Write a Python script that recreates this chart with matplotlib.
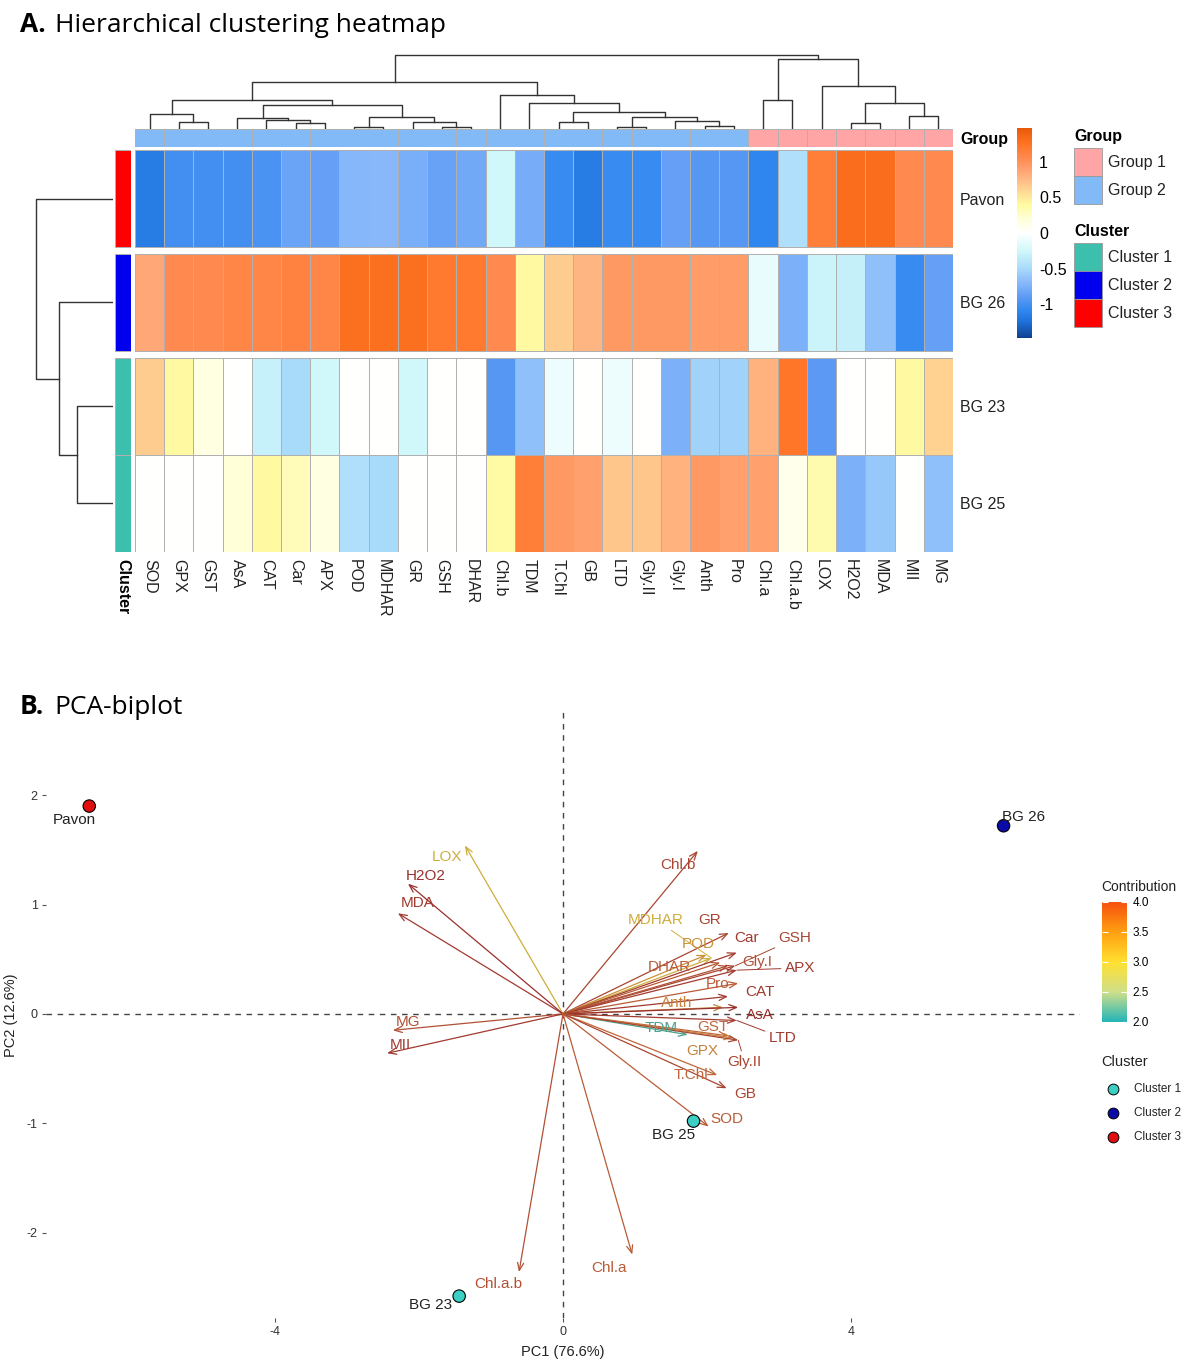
import numpy as np
import matplotlib
matplotlib.use("Agg")
import matplotlib.pyplot as plt
from matplotlib.colors import LinearSegmentedColormap, Normalize
from matplotlib.cm import ScalarMappable
from matplotlib.patches import Rectangle

plt.rcParams['font.family'] = ['Liberation Sans', 'DejaVu Sans']
plt.rcParams['axes.unicode_minus'] = False

W, H = 1201, 1364

# ---------------- heatmap data (column-scaled values) ----------------
variables = ["SOD", "GPX", "GST", "AsA", "CAT", "Car", "APX", "POD", "MDHAR", "GR",
             "GSH", "DHAR", "Chl.b", "TDM", "T.Chl", "GB", "LTD", "Gly.II", "Gly.I",
             "Anth", "Pro", "Chl.a", "Chl.a.b", "LOX", "H2O2", "MDA", "MII", "MG"]
samples = ["Pavon", "BG 26", "BG 23", "BG 25"]
z_pavon = [-1.15, -1.0, -1.0, -1.0, -0.97, -0.83, -0.85, -0.71, -0.70, -0.76, -0.84, -0.80,
           -0.25, -0.78, -1.05, -1.15, -1.05, -1.05, -0.85, -0.92, -0.92, -1.1, -0.45,
           1.15, 1.3, 1.3, 1.05, 1.05]
z_bg26 = [0.85, 1.05, 1.05, 1.08, 1.08, 1.12, 1.08, 1.28, 1.28, 1.28, 1.2, 1.2,
          1.05, 0.4, 0.65, 0.78, 0.95, 0.95, 0.95, 0.92, 0.92, -0.12, -0.75,
          -0.28, -0.32, -0.65, -1.05, -0.85]
z_bg23 = [0.65, 0.4, 0.15, 0.0, -0.3, -0.5, -0.25, 0.0, 0.0, -0.25, 0.0, 0.0,
          -0.92, -0.65, -0.1, 0.0, -0.1, 0.0, -0.75, -0.55, -0.55, 0.8, 1.22,
          -0.9, 0.0, 0.0, 0.4, 0.62]
z_bg25 = [0.0, 0.0, 0.0, 0.2, 0.4, 0.3, 0.15, -0.45, -0.5, 0.0, 0.0, 0.0,
          0.38, 1.15, 0.95, 0.9, 0.68, 0.68, 0.8, 0.95, 0.9, 0.9, 0.1,
          0.35, -0.75, -0.6, 0.0, -0.65]
var_group = ["Group 2"] * 21 + ["Group 1"] * 7
sample_cluster = ["Cluster 3", "Cluster 2", "Cluster 1", "Cluster 1"]

# dendrogram merges: (child a, child b, height); ids >= n are earlier merges
col_merges = [(1, 2, 7), (0, 28, 15), (5, 6, 6), (4, 30, 9), (3, 31, 11), (7, 8, 2),
              (10, 11, 2), (9, 34, 7), (33, 35, 12), (32, 36, 24), (29, 37, 29),
              (14, 15, 7), (16, 17, 2), (19, 20, 3), (18, 41, 8), (40, 42, 12),
              (39, 43, 17), (13, 44, 26), (12, 45, 34), (38, 46, 47), (21, 22, 29),
              (24, 25, 6), (26, 27, 13), (49, 50, 26), (23, 51, 43), (48, 52, 70),
              (47, 53, 74)]
row_merges = [(2, 3, 36), (1, 4, 54), (0, 5, 77)]

group_colors = {"Group 1": "#FFA5A5", "Group 2": "#82BAF8"}
cluster_colors = {"Cluster 1": "#3DBFAD", "Cluster 2": "#0000EE", "Cluster 3": "#FF0000"}

# ---------------- PCA biplot data ----------------
ind_names = ["Pavon", "BG 26", "BG 25", "BG 23"]
ind_pc1 = [-6.57, 6.11, 1.81, -1.44]
ind_pc2 = [1.90, 1.72, -0.98, -2.58]
ind_cluster = ["Cluster 3", "Cluster 2", "Cluster 1", "Cluster 1"]
ind_lab_x = [-6.78, 6.39, 1.53, -1.84]
ind_lab_y = [1.77, 1.80, -1.11, -2.66]

arrow_vars = ["LOX", "H2O2", "MDA", "MG", "MII", "Chl.b", "MDHAR", "GR", "POD", "Car",
              "GSH", "DHAR", "Gly.I", "APX", "Pro", "CAT", "Anth", "AsA", "TDM", "GST",
              "LTD", "GPX", "Gly.II", "T.Chl", "GB", "SOD", "Chl.a.b", "Chl.a"]
var_pc1 = [-1.36, -2.15, -2.29, -2.36, -2.44, 1.87, 2.06, 2.30, 1.99, 2.41,
           2.39, 2.18, 2.29, 2.41, 2.43, 2.29, 2.22, 2.43, 1.73, 2.29,
           2.41, 2.36, 2.43, 2.14, 2.27, 2.02, -0.61, 0.96]
var_pc2 = [1.54, 1.19, 0.92, -0.15, -0.36, 1.49, 0.51, 0.74, 0.54, 0.56,
           0.44, 0.47, 0.44, 0.40, 0.28, 0.16, 0.06, 0.06, -0.19, -0.20,
           -0.06, -0.22, -0.24, -0.56, -0.68, -1.03, -2.36, -2.20]
var_contrib = [3.0, 4.0, 3.9, 3.7, 3.9, 3.8, 3.0, 3.8, 3.2, 3.9,
               3.8, 3.6, 3.7, 3.9, 3.6, 3.9, 3.3, 4.0, 2.2, 3.5,
               3.9, 3.3, 3.8, 3.5, 3.8, 3.6, 3.7, 3.6]
var_lab_x = [-1.61, -1.91, -2.01, -2.15, -2.25, 1.60, 1.29, 2.04, 1.87, 2.55,
             3.22, 1.48, 2.70, 3.29, 2.14, 2.73, 1.58, 2.73, 1.36, 2.08,
             3.05, 1.93, 2.52, 1.78, 2.52, 2.27, -0.90, 0.64]
var_lab_y = [1.43, 1.26, 1.01, -0.07, -0.28, 1.36, 0.86, 0.86, 0.64, 0.69,
             0.69, 0.43, 0.47, 0.42, 0.27, 0.20, 0.10, -0.01, -0.13, -0.12,
             -0.22, -0.34, -0.44, -0.56, -0.73, -0.96, -2.47, -2.32]
repel_segments = ["MDHAR", "GSH", "APX", "LTD", "Gly.II"]

pc_cluster_colors = {"Cluster 1": "#3CCFC4", "Cluster 2": "#0A0AA8", "Cluster 3": "#E00E0E"}

# ---------------- colour scales ----------------
vlim = 1.47
hm_stops = [(-1.47, "#104090"), (-1.25, "#1E70D8"), (-1.1, "#2E86EE"), (-0.9, "#5C9AF5"),
            (-0.7, "#88B8FA"), (-0.5, "#A8DAFA"), (-0.25, "#D0F8FA"), (0.0, "#FFFFFF"),
            (0.2, "#FFFFD8"), (0.4, "#FFFAA0"), (0.65, "#FFCC90"), (0.85, "#FFA878"),
            (1.05, "#FF8A50"), (1.25, "#FF7424"), (1.47, "#E85A08")]
hm_cmap = LinearSegmentedColormap.from_list(
    "hm", [((v + vlim) / (2 * vlim), c) for v, c in hm_stops])
hm_norm = Normalize(-vlim, vlim)

contrib_bar = LinearSegmentedColormap.from_list(
    "cb", [(0, "#22B4B8"), (0.25, "#CFDF8A"), (0.5, "#FFE030"), (0.75, "#FFA010"), (1, "#F5500F")])
contrib_line = LinearSegmentedColormap.from_list(
    "cl", [(0, "#2A9EA0"), (0.5, "#CFAE3C"), (0.75, "#C2663A"), (1, "#99302C")])
contrib_norm = Normalize(2.0, 4.0)

fig = plt.figure(figsize=(W / 100, H / 100), dpi=100)


def px_axes(x0, y0, x1, y1):
    ax = fig.add_axes([x0 / W, 1 - y1 / H, (x1 - x0) / W, (y1 - y0) / H])
    ax.patch.set_alpha(0)
    return ax


ov = fig.add_axes([0, 0, 1, 1], zorder=-1)
ov.set_xlim(0, W)
ov.set_ylim(H, 0)
ov.axis("off")

# ---------------- panel A ----------------
title_font = ["Open Sans", "DejaVu Sans"]
ov.text(20, 25, "A.", fontsize=19, fontweight="bold", family=title_font, va="center")
ov.text(55, 25, "Hierarchical clustering heatmap", fontsize=19, family=title_font, va="center")

heat = np.array([z_pavon, z_bg26, z_bg23, z_bg25])
n_rows, n_cols = heat.shape
gap = 0.072
row_top = [0.0]
for r in range(1, n_rows):
    extra = gap if sample_cluster[r] != sample_cluster[r - 1] else 0.0
    row_top.append(row_top[-1] + 1 + extra)
row_top = np.array(row_top)
total_h = row_top[-1] + 1
row_centre = row_top + 0.5

hm = px_axes(135, 150, 953, 552)
for r in range(n_rows):
    hm.pcolormesh(np.arange(n_cols + 1), [row_top[r], row_top[r] + 1], heat[r][None, :],
                  cmap=hm_cmap, norm=hm_norm, edgecolors="#b0b0b0", linewidth=0.7)
hm.set_xlim(0, n_cols)
hm.set_ylim(total_h, 0)
hm.set_xticks(np.arange(n_cols) + 0.5)
hm.set_xticklabels(variables, rotation=270, fontsize=11.5, color="#222")
hm.set_yticks(row_centre)
hm.set_yticklabels(samples, fontsize=11.5, color="#222")
hm.yaxis.tick_right()
hm.tick_params(length=0, pad=5)
for s in hm.spines.values():
    s.set_visible(False)

# group annotation
ga = px_axes(135, 129, 953, 147)
for i, g in enumerate(var_group):
    ga.add_patch(Rectangle((i, 0), 1, 1, facecolor=group_colors[g], edgecolor="#b0b0b0", lw=0.7))
ga.set_xlim(0, n_cols)
ga.set_ylim(0, 1)
ga.set_xticks([])
ga.set_yticks([0.5])
ga.set_yticklabels(["Group"], fontsize=11.5, fontweight="bold")
ga.yaxis.tick_right()
ga.tick_params(length=0, pad=5)
for s in ga.spines.values():
    s.set_visible(False)

# cluster annotation
ca = px_axes(115, 150, 131, 552)
for r, c in enumerate(sample_cluster):
    ca.add_patch(Rectangle((0, row_top[r]), 1, 1, facecolor=cluster_colors[c], edgecolor="#b0b0b0", lw=0.7))
ca.set_xlim(0, 1)
ca.set_ylim(total_h, 0)
ca.set_yticks([])
ca.set_xticks([0.5])
ca.set_xticklabels(["Cluster"], rotation=270, fontsize=11.5, fontweight="bold")
ca.tick_params(length=0, pad=5)
for s in ca.spines.values():
    s.set_visible(False)


def draw_dendro(ax, merges, leaf_pos, vertical=True):
    pos = list(leaf_pos)
    hgt = [0.0] * len(leaf_pos)
    for a, b, h in merges:
        if vertical:
            ax.plot([pos[a], pos[a], pos[b], pos[b]], [hgt[a], h, h, hgt[b]], color="#333", lw=1)
        else:
            ax.plot([hgt[a], h, h, hgt[b]], [pos[a], pos[a], pos[b], pos[b]], color="#333", lw=1)
        pos.append((pos[a] + pos[b]) / 2)
        hgt.append(h)


cd = px_axes(135, 52, 953, 129)
draw_dendro(cd, col_merges, np.arange(n_cols) + 0.5, vertical=True)
cd.set_xlim(0, n_cols)
cd.set_ylim(0, 77)
cd.axis("off")

rd = px_axes(33, 150, 113, 552)
draw_dendro(rd, row_merges, row_centre, vertical=False)
rd.set_xlim(80, 0)
rd.set_ylim(total_h, 0)
rd.axis("off")

# heatmap colour bar
cax = px_axes(1017, 128, 1032, 338)
cb = fig.colorbar(ScalarMappable(norm=hm_norm, cmap=hm_cmap), cax=cax, ticks=[-1, -0.5, 0, 0.5, 1])
cb.outline.set_visible(False)
cb.ax.set_yticklabels(["-1", "-0.5", "0", "0.5", "1"])
cax.tick_params(length=0, labelsize=11.5, pad=5)

# annotation legends
ov.text(1074, 137, "Group", fontsize=11.5, fontweight="bold", va="center")
for k, g in enumerate(["Group 1", "Group 2"]):
    y0 = 148 + 28 * k
    ov.add_patch(Rectangle((1074, y0), 28, 28, facecolor=group_colors[g], edgecolor="#999", lw=0.6))
    ov.text(1108, y0 + 14, g, fontsize=11.5, va="center", color="#222")
ov.text(1074, 232, "Cluster", fontsize=11.5, fontweight="bold", va="center")
for k, c in enumerate(["Cluster 1", "Cluster 2", "Cluster 3"]):
    y0 = 243 + 28 * k
    ov.add_patch(Rectangle((1074, y0), 28, 28, facecolor=cluster_colors[c], edgecolor="#999", lw=0.6))
    ov.text(1108, y0 + 14, c, fontsize=11.5, va="center", color="#222")

# ---------------- panel B ----------------
ov.text(20, 707, "B.", fontsize=19, fontweight="bold", family=title_font, va="center")
ov.text(54, 707, "PCA-biplot", fontsize=19, family=title_font, va="center")

pca = px_axes(46, 712, 1080, 1318)
pca.set_xlim(-7.17, 7.17)
pca.set_ylim(-2.78, 2.76)
pca.axhline(0, color="#444", lw=1, ls=(0, (4, 4)), zorder=1)
pca.axvline(0, color="#444", lw=1, ls=(0, (4, 4)), zorder=1)

for name, x, y, c, lx, ly in zip(arrow_vars, var_pc1, var_pc2, var_contrib, var_lab_x, var_lab_y):
    col = contrib_line(contrib_norm(c))
    pca.annotate("", xy=(x, y), xytext=(0, 0),
                 arrowprops=dict(arrowstyle="->,head_length=0.55,head_width=0.22", color=col,
                                 lw=0.9, shrinkA=0, shrinkB=0), zorder=2)
    if name in repel_segments:
        pca.annotate(name, xy=(x, y), xytext=(lx, ly), color=col, fontsize=11,
                     ha="center", va="center", zorder=3,
                     arrowprops=dict(arrowstyle="-", color=col, lw=0.7, shrinkA=1, shrinkB=0))
    else:
        pca.text(lx, ly, name, color=col, fontsize=11, ha="center", va="center", zorder=3)

pca.scatter(ind_pc1, ind_pc2, c=[pc_cluster_colors[c] for c in ind_cluster], s=80,
            edgecolors="black", linewidths=0.8, zorder=5)
for name, lx, ly in zip(ind_names, ind_lab_x, ind_lab_y):
    pca.text(lx, ly, name, fontsize=11, color="#222", ha="center", va="center", zorder=5)

pca.set_xticks([-4, 0, 4])
pca.set_yticks([-2, -1, 0, 1, 2])
pca.set_xticklabels(["-4", "0", "4"])
pca.tick_params(length=3, color="#555", labelsize=9, labelcolor="#333", pad=3)
for s in pca.spines.values():
    s.set_visible(False)
pca.set_xlabel("PC1 (76.6%)", fontsize=10.5, color="#222", labelpad=5)
pca.set_ylabel("PC2 (12.6%)", fontsize=10.5, color="#222", labelpad=6)

# contribution colour bar
cax2 = px_axes(1102, 902, 1127, 1022)
cb2 = fig.colorbar(ScalarMappable(norm=contrib_norm, cmap=contrib_bar), cax=cax2,
                   ticks=[2.0, 2.5, 3.0, 3.5, 4.0])
cb2.outline.set_visible(False)
cb2.ax.set_yticklabels(["2.0", "2.5", "3.0", "3.5", "4.0"])
cax2.yaxis.set_ticks_position("both")
cax2.tick_params(direction="in", length=4, color="white", width=0.8,
                 labelsize=8.5, labelleft=False, labelright=True, pad=4)
ov.text(1101, 887, "Contribution", fontsize=10, va="center", color="#222")

ov.text(1101, 1062, "Cluster", fontsize=10.5, va="center", color="#222")
for k, c in enumerate(["Cluster 1", "Cluster 2", "Cluster 3"]):
    yy = 1089 + 24 * k
    ov.scatter([1113], [yy], s=60, c=pc_cluster_colors[c], edgecolors="black", linewidths=0.7)
    ov.text(1134, yy, c, fontsize=8.5, va="center", color="#222")

fig.savefig("out.png", dpi=100)
